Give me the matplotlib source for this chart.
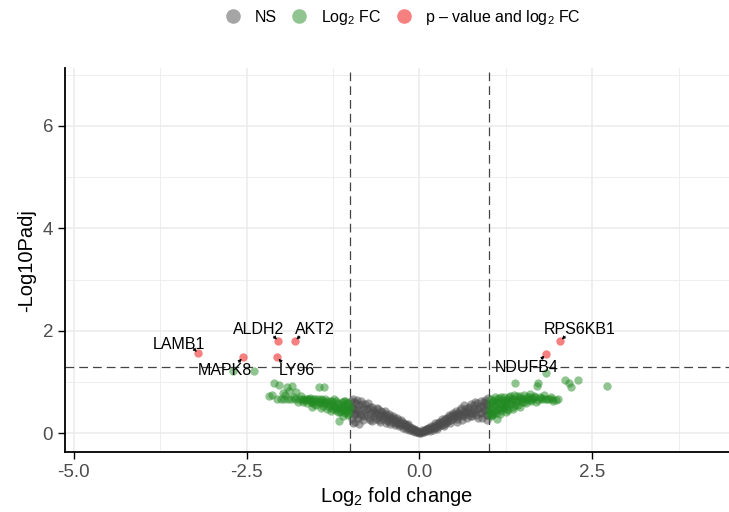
import matplotlib
matplotlib.use("Agg")
import matplotlib.pyplot as plt
from matplotlib.lines import Line2D

plt.rcParams['font.family'] = ['Liberation Sans', 'DejaVu Sans']
plt.rcParams['mathtext.fontset'] = 'custom'
plt.rcParams['mathtext.rm'] = 'Liberation Sans'
plt.rcParams['mathtext.it'] = 'Liberation Sans:italic'

# not significant genes (log2FC, -log10 padj)
ns_x = [-0.99, -0.99, -0.98, -0.97, -0.96, -0.95, -0.94, -0.93, -0.92, -0.91,
        -0.89, -0.88, -0.87, -0.85, -0.84, -0.82, -0.81, -0.79, -0.78, -0.76,
        -0.75, -0.73, -0.72, -0.70, -0.69, -0.67, -0.66, -0.64, -0.63, -0.61,
        -0.60, -0.58, -0.57, -0.55, -0.54, -0.52, -0.51, -0.49, -0.48, -0.46,
        -0.45, -0.43, -0.42, -0.40, -0.39, -0.37, -0.36, -0.34, -0.33, -0.31,
        -0.30, -0.28, -0.27, -0.25, -0.24, -0.22, -0.21, -0.19, -0.18, -0.16,
        -0.15, -0.13, -0.12, -0.10, -0.09, -0.07, -0.06, -0.04, -0.03, -0.01,
        -0.98, -0.96, -0.95, -0.93, -0.91, -0.90, -0.88, -0.86, -0.83, -0.80,
        -0.77, -0.74, -0.71, -0.68, -0.65, -0.62, -0.59, -0.56, -0.53, -0.50,
        -0.47, -0.44, -0.41, -0.38, -0.35, -0.32, -0.29, -0.26, -0.23, -0.20,
        -0.17, -0.14, -0.11, -0.08, -0.05, -0.02,
        0.01, 0.03, 0.05, 0.06, 0.08, 0.10, 0.11, 0.13, 0.14, 0.16,
        0.18, 0.19, 0.21, 0.22, 0.24, 0.26, 0.27, 0.29, 0.31, 0.32,
        0.34, 0.36, 0.37, 0.39, 0.41, 0.42, 0.44, 0.46, 0.47, 0.49,
        0.51, 0.52, 0.54, 0.56, 0.57, 0.59, 0.61, 0.62, 0.64, 0.66,
        0.67, 0.69, 0.71, 0.72, 0.74, 0.76, 0.77, 0.79, 0.81, 0.82,
        0.84, 0.86, 0.87, 0.89, 0.90, 0.92, 0.93, 0.95, 0.96, 0.97,
        0.98, 0.99, 0.99,
        0.02, 0.04, 0.07, 0.09, 0.12, 0.15, 0.17, 0.20, 0.23, 0.25,
        0.28, 0.30, 0.33, 0.35, 0.38, 0.40, 0.43, 0.45, 0.48, 0.50,
        0.53, 0.55, 0.58, 0.60, 0.63, 0.65, 0.68, 0.70, 0.73, 0.75,
        0.78, 0.80, 0.83, 0.85, 0.88, 0.91, 0.94, 0.97, 0.99, 0.98]
ns_y = [0.62, 0.41, 0.28, 0.52, 0.66, 0.35, 0.47, 0.22, 0.58, 0.40,
        0.30, 0.55, 0.45, 0.62, 0.33, 0.50, 0.25, 0.42, 0.56, 0.36,
        0.47, 0.30, 0.52, 0.40, 0.24, 0.46, 0.34, 0.42, 0.28, 0.38,
        0.47, 0.31, 0.22, 0.36, 0.42, 0.27, 0.33, 0.20, 0.38, 0.29,
        0.24, 0.33, 0.18, 0.27, 0.22, 0.30, 0.15, 0.24, 0.19, 0.26,
        0.13, 0.20, 0.16, 0.22, 0.11, 0.17, 0.13, 0.09, 0.15, 0.11,
        0.07, 0.10, 0.06, 0.08, 0.05, 0.06, 0.03, 0.04, 0.02, 0.01,
        0.50, 0.20, 0.60, 0.38, 0.64, 0.48, 0.18, 0.38, 0.57, 0.33,
        0.48, 0.58, 0.26, 0.52, 0.40, 0.50, 0.26, 0.44, 0.36, 0.43,
        0.25, 0.37, 0.30, 0.34, 0.20, 0.30, 0.17, 0.25, 0.20, 0.15,
        0.18, 0.12, 0.11, 0.09, 0.06, 0.03,
        0.02, 0.03, 0.05, 0.02, 0.06, 0.04, 0.08, 0.06, 0.10, 0.08,
        0.12, 0.07, 0.14, 0.10, 0.16, 0.12, 0.19, 0.14, 0.21, 0.16,
        0.24, 0.18, 0.27, 0.20, 0.29, 0.23, 0.33, 0.25, 0.36, 0.28,
        0.38, 0.31, 0.22, 0.40, 0.33, 0.45, 0.36, 0.26, 0.42, 0.48,
        0.37, 0.30, 0.44, 0.52, 0.40, 0.33, 0.48, 0.55, 0.43, 0.36,
        0.58, 0.50, 0.40, 0.62, 0.30, 0.54, 0.45, 0.65, 0.35, 0.58,
        0.26, 0.48, 0.68,
        0.01, 0.06, 0.04, 0.09, 0.10, 0.05, 0.14, 0.11, 0.19, 0.09,
        0.22, 0.18, 0.28, 0.13, 0.30, 0.24, 0.36, 0.19, 0.40, 0.33,
        0.43, 0.28, 0.38, 0.50, 0.33, 0.55, 0.42, 0.50, 0.34, 0.56,
        0.40, 0.60, 0.47, 0.30, 0.53, 0.40, 0.60, 0.45, 0.35, 0.55]

# |log2FC| > 1 only
fc_x = [-1.02, -1.03, -1.04, -1.05, -1.06, -1.07, -1.08, -1.09, -1.10, -1.11,
        -1.12, -1.13, -1.14, -1.16, -1.17, -1.18, -1.19, -1.20, -1.21, -1.23,
        -1.24, -1.25, -1.27, -1.28, -1.30, -1.31, -1.33, -1.34, -1.36, -1.37,
        -1.38, -1.40, -1.41, -1.43, -1.44, -1.45, -1.47, -1.49, -1.50, -1.52,
        -1.54, -1.56, -1.57, -1.58, -1.60, -1.62, -1.64, -1.66, -1.68, -1.70,
        -1.72, -1.74, -1.76, -1.78, -1.80, -1.82, -1.84, -1.86, -1.88, -1.90,
        -1.92, -1.94, -1.96, -1.98, -2.00, -2.03, -2.06, -2.10, -2.14, -2.17,
        -2.39, -2.70,
        -1.01, -1.03, -1.05, -1.07, -1.09, -1.12, -1.15, -1.18, -1.22, -1.26,
        -1.29, -1.33, -1.39, -1.42, -1.46, -1.51, -1.55, -1.59, -1.63, -1.69,
        1.01, 1.02, 1.03, 1.04, 1.05, 1.06, 1.07, 1.08, 1.09, 1.10,
        1.11, 1.12, 1.13, 1.14, 1.15, 1.17, 1.18, 1.19, 1.20, 1.22,
        1.23, 1.24, 1.26, 1.27, 1.28, 1.30, 1.31, 1.33, 1.34, 1.36,
        1.37, 1.38, 1.40, 1.42, 1.44, 1.46, 1.48, 1.50, 1.52, 1.54,
        1.56, 1.58, 1.60, 1.62, 1.64, 1.66, 1.68, 1.70, 1.72, 1.75,
        1.78, 1.80, 1.83, 1.85, 1.87, 1.90, 1.94, 2.01, 2.10, 2.16,
        2.19, 2.30, 2.72, 1.05, 1.16, 1.25, 1.35, 1.45,
        1.02, 1.04, 1.06, 1.08, 1.10, 1.12, 1.14, 1.16, 1.18, 1.21,
        1.23, 1.25, 1.27, 1.29, 1.32, 1.35, 1.38, 1.41, 1.43, 1.47,
        1.51, 1.55, 1.59, 1.63, 1.67, 1.72, 1.76, 1.82, 1.92, 1.97]
fc_y = [0.47, 0.58, 0.36, 0.52, 0.43, 0.62, 0.39, 0.55, 0.48, 0.33,
        0.60, 0.44, 0.51, 0.23, 0.57, 0.41, 0.49, 0.62, 0.45, 0.54,
        0.66, 0.48, 0.58, 0.43, 0.63, 0.52, 0.56, 0.47, 0.61, 0.66,
        0.90, 0.53, 0.64, 0.49, 0.58, 0.91, 0.66, 0.55, 0.62, 0.57,
        0.66, 0.51, 0.60, 0.68, 0.66, 0.58, 0.64, 0.66, 0.61, 0.66,
        0.72, 0.66, 0.60, 0.80, 0.66, 0.70, 0.92, 0.66, 0.82, 0.66,
        0.90, 0.74, 0.66, 0.78, 0.66, 0.94, 0.66, 0.98, 0.74, 0.72,
        1.21, 1.21,
        0.52, 0.40, 0.58, 0.46, 0.62, 0.50, 0.42, 0.58, 0.52, 0.62,
        0.55, 0.62, 0.58, 0.66, 0.60, 0.66, 0.60, 0.64, 0.66, 0.64,
        0.42, 0.58, 0.33, 0.66, 0.50, 0.38, 0.62, 0.46, 0.70, 0.55,
        0.40, 0.27, 0.60, 0.48, 0.68, 0.52, 0.44, 0.64, 0.57, 0.49,
        0.70, 0.60, 0.53, 0.66, 0.45, 0.62, 0.72, 0.56, 0.66, 0.51,
        0.74, 0.98, 0.62, 0.55, 0.68, 0.72, 0.60, 0.66, 0.74, 0.58,
        0.70, 0.64, 0.76, 0.62, 0.68, 0.73, 0.60, 0.92, 0.98, 0.70,
        0.66, 0.74, 1.17, 0.66, 0.66, 0.70, 0.62, 0.66, 1.04, 0.98,
        0.90, 1.04, 0.92, 0.35, 0.38, 0.42, 0.48, 0.52,
        0.50, 0.38, 0.62, 0.56, 0.44, 0.66, 0.58, 0.47, 0.70, 0.52,
        0.62, 0.56, 0.48, 0.70, 0.60, 0.66, 0.55, 0.72, 0.62, 0.66,
        0.60, 0.66, 0.70, 0.66, 0.70, 0.64, 0.68, 0.66, 0.66, 0.64]

# p-value and log2FC significant
sig_genes = ['LAMB1', 'MAPK8', 'ALDH2', 'AKT2', 'LY96', 'RPS6KB1', 'NDUFB4']
sig_x = [-3.20, -2.55, -2.04, -1.80, -2.06, 2.04, 1.83]
sig_y = [1.56, 1.48, 1.80, 1.80, 1.48, 1.80, 1.54]

# where each label sits relative to its point (points)
lab_offsets = [(-14, 6), (-13, -9.5), (-14, 8), (14, 8), (14, -9.5), (14, 8), (-14, -9.5)]

fc_cut = 1.0
p_cut = 1.30103

fig = plt.figure(figsize=(7.29, 5.12), dpi=100)
ax = fig.add_axes([0.089, 0.117, 0.911, 0.75])

grid_col = '#EBEBEB'
ax.set_xticks([-3.75, -1.25, 1.25, 3.75], minor=True)
ax.set_yticks([1, 3, 5, 7], minor=True)
ax.grid(True, which='major', color=grid_col, lw=1.1, zorder=0)
ax.grid(True, which='minor', color=grid_col, lw=0.6, zorder=0)
ax.set_axisbelow(True)

ax.scatter(ns_x, ns_y, s=36, color='#4D4D4D', alpha=0.5, lw=0, zorder=3)
ax.scatter(fc_x, fc_y, s=36, color='#228B22', alpha=0.5, lw=0, zorder=3)
ax.scatter(sig_x, sig_y, s=36, color='#EE0000', alpha=0.5, lw=0, zorder=3)

for v in (-fc_cut, fc_cut):
    ax.axvline(v, color='#444444', lw=0.9, ls=(0, (7, 4)), zorder=2)
ax.axhline(p_cut, color='#444444', lw=0.9, ls=(0, (7, 4)), zorder=2)

for g, x, y, off in zip(sig_genes, sig_x, sig_y, lab_offsets):
    ax.annotate(g, (x, y), xytext=off, textcoords='offset points',
                ha='center', va='center', fontsize=11.5, color='black', zorder=5)
    dx = 3.5 if off[0] > 0 else -3.5
    dy = 3.5 if off[1] > 0 else -3.5
    ax.annotate('', (x, y), xytext=(dx, dy), textcoords='offset points',
                arrowprops=dict(arrowstyle='-|>', color='black', lw=0.6,
                                mutation_scale=5, shrinkA=0, shrinkB=1.5),
                zorder=5)

ax.set_xlim(-5.13, 4.48)
ax.set_ylim(-0.37, 7.13)
ax.set_xticks([-5.0, -2.5, 0.0, 2.5])
ax.set_xticklabels(['-5.0', '-2.5', '0.0', '2.5'])
ax.set_yticks([0, 2, 4, 6])
ax.tick_params(which='major', length=5, width=1, color='black',
               labelsize=13.5, labelcolor='#4D4D4D')
ax.tick_params(which='minor', length=0)

for s in ('top', 'right'):
    ax.spines[s].set_visible(False)
for s in ('left', 'bottom'):
    ax.spines[s].set_linewidth(1.3)
    ax.spines[s].set_color('black')

ax.set_xlabel(r'Log$_2$ fold change', fontsize=14.5, labelpad=3)
ax.set_ylabel('-Log10Padj', fontsize=14.5, labelpad=5)

handles = [
    Line2D([], [], marker='o', ls='', markersize=10.5, markeredgewidth=0,
           color='#4D4D4D', alpha=0.5, label='NS'),
    Line2D([], [], marker='o', ls='', markersize=10.5, markeredgewidth=0,
           color='#228B22', alpha=0.5, label=r'Log$_2$ FC'),
    Line2D([], [], marker='o', ls='', markersize=10.5, markeredgewidth=0,
           color='#EE0000', alpha=0.5, label=r'p – value and log$_2$ FC'),
]
fig.legend(handles=handles, loc='center', bbox_to_anchor=(0.552, 0.966),
           ncol=3, frameon=False, fontsize=11.5, handletextpad=0.75,
           columnspacing=0.8, handlelength=1.2)

fig.savefig('out.png', dpi=100)
